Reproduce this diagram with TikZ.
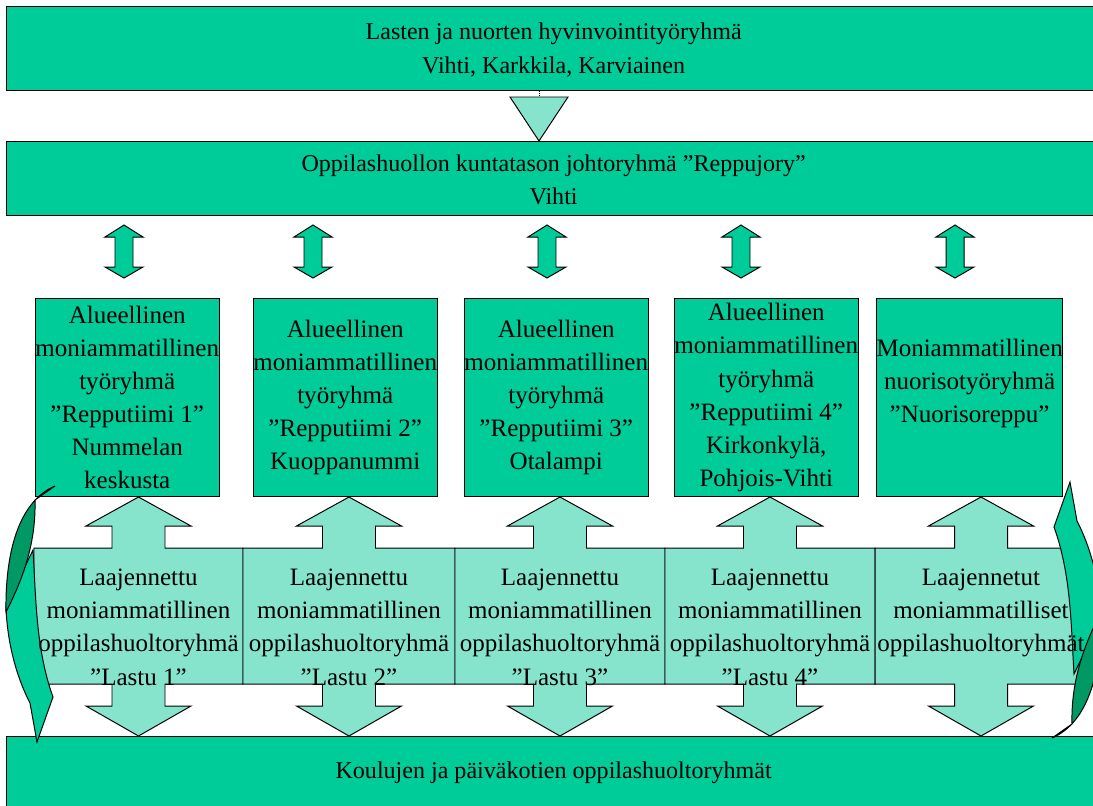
\documentclass[tikz,border=0pt]{standalone}
\usepackage{fontspec}
\setmainfont{Liberation Serif}
\usetikzlibrary{positioning}
\definecolor{reppugreen}{RGB}{0,204,153}
\definecolor{lastugreen}{RGB}{134,228,204}
\definecolor{backgreen}{RGB}{0,153,102}

\begin{document}
\begin{tikzpicture}[x=0.025cm, y=-0.025cm,
  band/.style={draw, line width=0.7pt, fill=reppugreen, anchor=north west, inner sep=0pt,
    align=center, minimum width=27.35cm, font=\fontsize{17.1}{23.5}\selectfont},
  team/.style={draw, line width=0.7pt, fill=reppugreen, anchor=north west, inner sep=0pt,
    align=center, minimum width=4.575cm, minimum height=4.95cm, font=\fontsize{17.8}{23.5}\selectfont},
  lastutext/.style={anchor=north, inner sep=0pt, align=center, font=\fontsize{17.8}{23.5}\selectfont},
  lastuarrow/.style={draw, line width=0.7pt, fill=lastugreen},
  duparrow/.style={draw, line width=0.7pt, fill=reppugreen},
  turn/.style={draw, line width=0.7pt, fill=reppugreen},
  turnback/.style={draw, line width=0.7pt, fill=backgreen}]
\useasboundingbox (0,0) rectangle (1093,805);

% top levels
\node[band, minimum height=2.1cm] (lasten) at (6,6) {\rule{0pt}{14pt}Lasten ja nuorten hyvinvointityöryhmä\\Vihti, Karkkila, Karviainen};
\node[band, minimum height=1.85cm] (reppujory) at (6,141) {\rule{0pt}{14pt}Oppilashuollon kuntatason johtoryhmä ”Reppujory”\\Vihti};

% double arrows
\foreach \x in {124,313,547,741,955}
  \draw[duparrow] (\x-19,237) -- (\x,225) -- (\x+19,237) -- (\x+9,237) -- (\x+9,267) -- (\x+19,267)
    -- (\x,278) -- (\x-19,267) -- (\x-9,267) -- (\x-9,237) -- cycle;

% repputiimit
\node[team] (tiimi1) at (35,298) {Alueellinen\\moniammatillinen\\työryhmä\\”Repputiimi 1”\\Nummelan\\keskusta};
\node[team] (tiimi2) at (253,298) {Alueellinen\\moniammatillinen\\työryhmä\\”Repputiimi 2”\\Kuoppanummi};
\node[team] (tiimi3) at (464,298) {Alueellinen\\moniammatillinen\\työryhmä\\”Repputiimi 3”\\Otalampi};
\node[team] (tiimi4) at (674,298) {Alueellinen\\moniammatillinen\\työryhmä\\”Repputiimi 4”\\Kirkonkylä,\\Pohjois-Vihti};
\node[team] (nuoriso) at (876,298) {Moniammatillinen\\nuorisotyöryhmä\\”Nuorisoreppu”\\\mbox{}};

% lastut
\foreach \l/\x/\r in {34/138.5/243, 243/349/455, 455/560/665, 665/770/875, 875/981/1087}
  \draw[lastuarrow] (\l,548) -- (\x-26.5,548) -- (\x-26.5,526) -- (\x-52.5,526) -- (\x,497)
    -- (\x+52.5,526) -- (\x+26.5,526) -- (\x+26.5,548) -- (\r,548) -- (\r,684)
    -- (\x+26.5,684) -- (\x+26.5,706) -- (\x+52.5,706) -- (\x,736) -- (\x-52.5,706)
    -- (\x-26.5,706) -- (\x-26.5,684) -- (\l,684) -- cycle;

\node[band, minimum height=1.8cm] (koulut) at (6,736) {Koulujen ja päiväkotien oppilashuoltoryhmät};

% curved arrows
\draw[turn] (33,550) .. controls (36,600) and (36,650) .. (53,697) -- (37,742) -- (30,703)
  .. controls (18,680) and (7,645) .. (6,606) -- cycle;
\draw[turnback] (35,500) -- (55,486) .. controls (22,500) and (5,545) .. (6,612)
  .. controls (25,575) and (36,540) .. (35,500) -- cycle;
\begin{scope}[rotate around={180:(553.5,612)}]
\draw[turn] (33,550) .. controls (36,600) and (36,650) .. (53,697) -- (37,742) -- (30,703)
  .. controls (18,680) and (7,645) .. (6,606) -- cycle;
\draw[turnback] (35,500) -- (55,486) .. controls (22,500) and (5,545) .. (6,612)
  .. controls (25,575) and (36,540) .. (35,500) -- cycle;
\end{scope}

\node[lastutext] (lastu1) at (138.5,569) {Laajennettu\\moniammatillinen\\oppilashuoltoryhmä\\”Lastu 1”};
\node[lastutext] (lastu2) at (349,569) {Laajennettu\\moniammatillinen\\oppilashuoltoryhmä\\”Lastu 2”};
\node[lastutext] (lastu3) at (560,569) {Laajennettu\\moniammatillinen\\oppilashuoltoryhmä\\”Lastu 3”};
\node[lastutext] (lastu4) at (770,569) {Laajennettu\\moniammatillinen\\oppilashuoltoryhmä\\”Lastu 4”};
\node[lastutext] (lastut) at (981,569) {Laajennetut\\moniammatilliset\\oppilashuoltoryhmät};

% from the top group down
\draw[densely dotted] (lasten.south -| 539,0) -- (539,97);
\draw[lastuarrow] (510,97) -- (568,97) -- (reppujory.north -| 539,0) -- cycle;
\end{tikzpicture}
\end{document}
